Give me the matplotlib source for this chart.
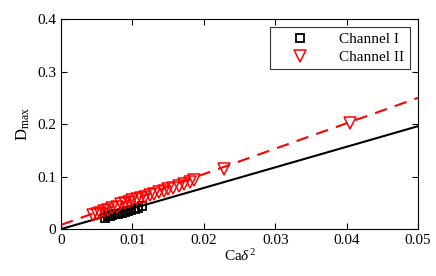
import matplotlib
matplotlib.use("Agg")
import matplotlib.pyplot as plt
import numpy as np

plt.rcParams['font.family'] = ['Liberation Serif', 'DejaVu Serif']
plt.rcParams['mathtext.fontset'] = 'custom'
plt.rcParams['mathtext.rm'] = 'Liberation Serif'
plt.rcParams['mathtext.it'] = 'Liberation Serif:italic'

# Channel I (black squares)
ch1_x = [0.0062, 0.0066, 0.0069, 0.0072, 0.0076, 0.0080, 0.0085, 0.0089,
         0.0094, 0.0098, 0.0103, 0.0108, 0.0113]
ch1_y = [0.022, 0.024, 0.025, 0.026, 0.028, 0.029, 0.031, 0.033,
         0.035, 0.037, 0.039, 0.041, 0.044]

# Channel II (red triangles)
ch2_x = [0.0045, 0.0050, 0.0055, 0.0060, 0.0066, 0.0072, 0.0078, 0.0084,
         0.0090, 0.0095, 0.0100, 0.0106, 0.0112, 0.0118, 0.0124, 0.0130,
         0.0137, 0.0144, 0.0150, 0.0157, 0.0165, 0.0172, 0.0180, 0.0186,
         0.0228, 0.0405]
ch2_y = [0.027, 0.028, 0.030, 0.034, 0.037, 0.041, 0.043, 0.047,
         0.050, 0.052, 0.055, 0.057, 0.060, 0.062, 0.065, 0.067,
         0.070, 0.073, 0.076, 0.079, 0.082, 0.086, 0.090, 0.093,
         0.114, 0.202]

# fitted lines
fit_x = [0.0, 0.05]
fit1_y = [0.0, 0.196]
fit2_y = [0.008, 0.250]

fig = plt.figure(figsize=(4.36, 2.76), dpi=100)
ax = fig.add_axes([0.140, 0.170, 0.819, 0.761])

ax.plot(fit_x, fit1_y, 'k-', linewidth=1.5)
ax.plot(fit_x, fit2_y, 'r--', linewidth=1.5, dashes=(6, 4))
ax.plot(ch1_x, ch1_y, 's', mfc='none', mec='k', mew=1.3, ms=6, label='Channel I')
ax.plot(ch2_x, ch2_y, 'v', mfc='none', mec='r', mew=1.1, ms=9, label='Channel II')

ax.set_xlim(0, 0.05)
ax.set_ylim(0, 0.4)
ax.set_xticks([0, 0.01, 0.02, 0.03, 0.04, 0.05])
ax.set_xticklabels(['0', '0.01', '0.02', '0.03', '0.04', '0.05'])
ax.set_yticks([0, 0.1, 0.2, 0.3, 0.4])
ax.set_yticklabels(['0', '0.1', '0.2', '0.3', '0.4'])
ax.tick_params(direction='in', labelsize=11, length=4, top=True, right=True)
ax.set_xlabel(r'Ca$\delta^2$', fontsize=11, labelpad=1)
ax.set_ylabel(r'D$_{\rm max}$', fontsize=12, labelpad=4)

leg = ax.legend(loc='upper right', fontsize=11, fancybox=False, edgecolor='k',
                borderaxespad=0.55, handletextpad=1.0, handlelength=3.2,
                borderpad=0.35, labelspacing=0.25)
leg.get_frame().set_linewidth(0.8)

fig.savefig('out.png', dpi=100)
